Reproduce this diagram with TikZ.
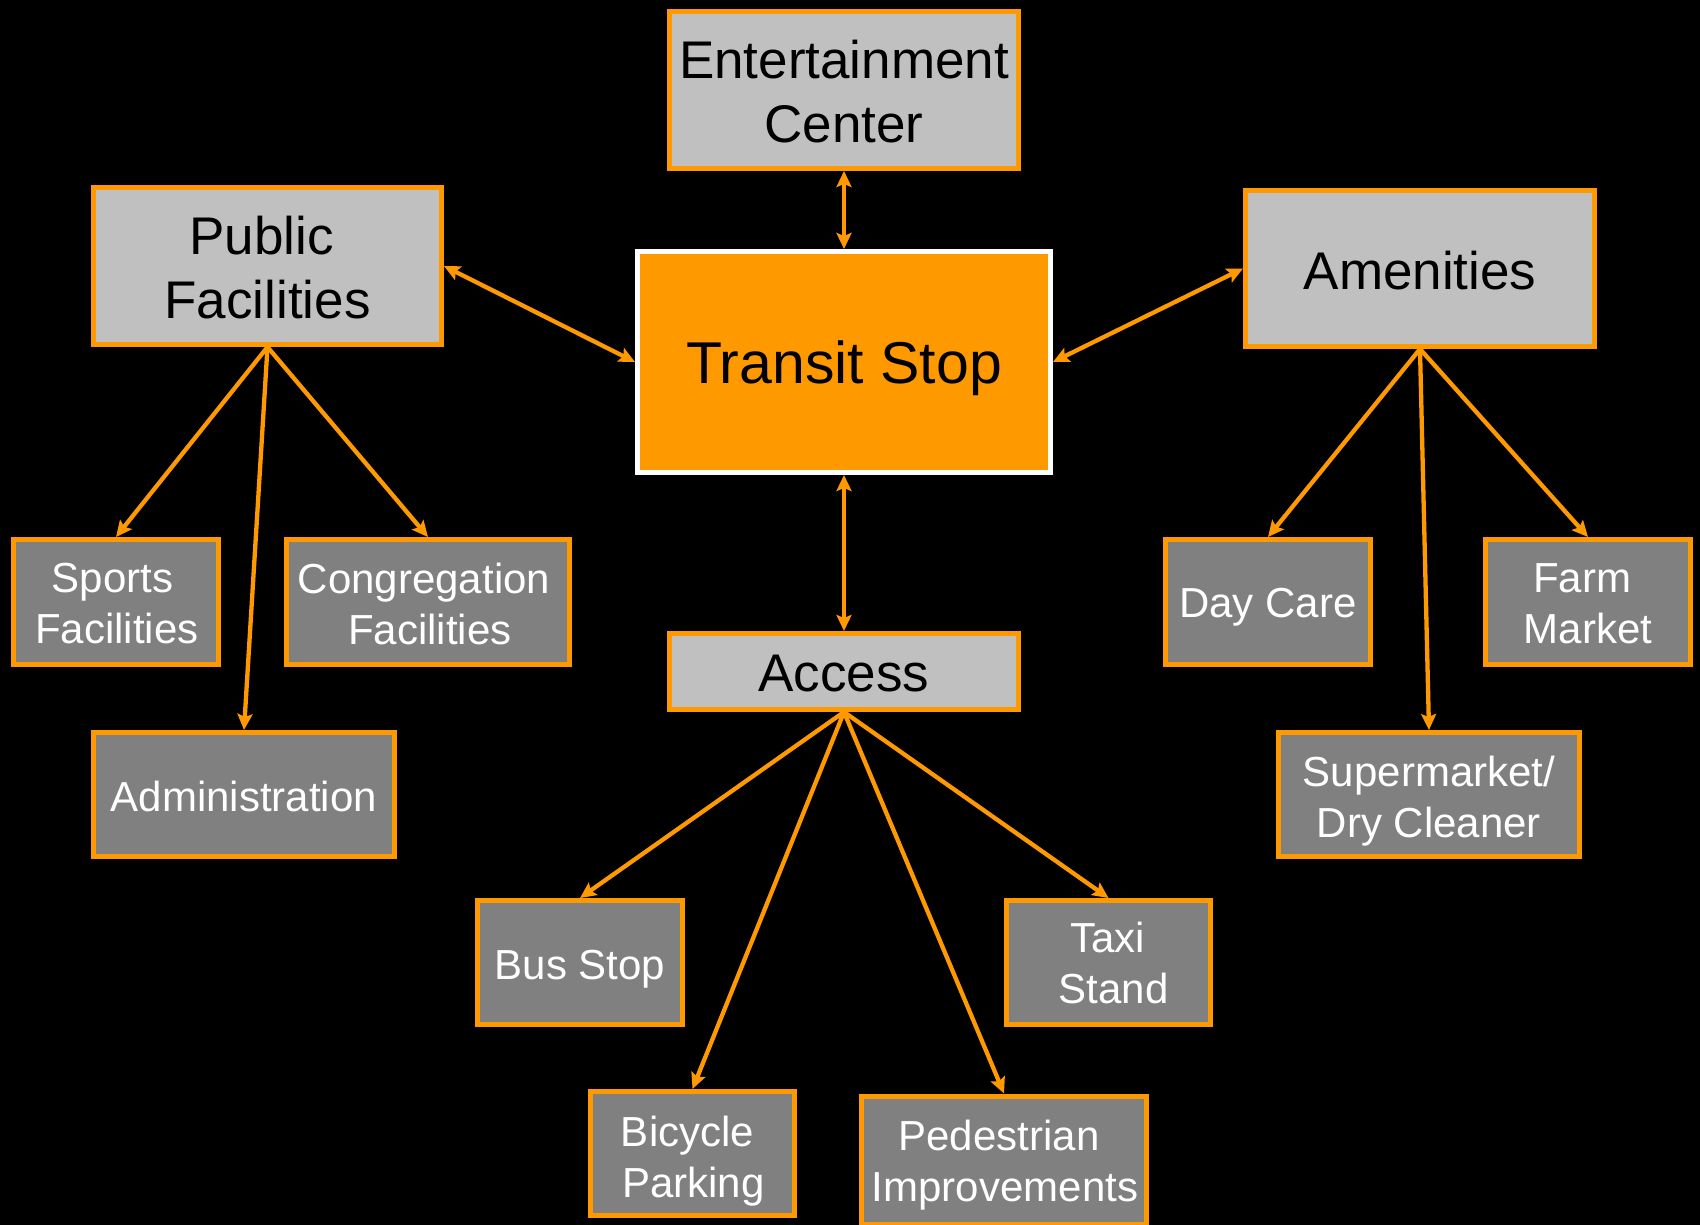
\documentclass[tikz,border=0pt]{standalone}
\usepackage{fontspec}
\setmainfont{Liberation Sans}
\usetikzlibrary{arrows.meta}
\definecolor{orng}{HTML}{FF9900}
\definecolor{lgray}{HTML}{C0C0C0}
\definecolor{dgray}{HTML}{808080}
\newcommand{\trail}{\kern12pt}
\begin{document}
\begin{tikzpicture}[x=1pt,y=-1pt,
  topbox/.style={draw=orng, fill=lgray, line width=5pt, inner sep=0pt},
  subbox/.style={draw=orng, fill=dgray, line width=5pt, inner sep=0pt},
  centerbox/.style={draw=white, fill=orng, line width=5pt, inner sep=0pt},
  toptext/.style={inner sep=0pt, align=center, text=black, font=\fontsize{53}{64}\selectfont},
  subtext/.style={inner sep=0pt, align=center, text=white, font=\fontsize{42}{51}\selectfont},
  centertext/.style={inner sep=0pt, align=center, text=black, font=\fontsize{59}{70}\selectfont},
  tip/.style={Stealth[length=16pt,width=15pt,inset=3pt]},
  link/.style={draw=orng, line width=4.3pt, -{Stealth[length=16pt,width=15pt,inset=3pt]}},
  dlink/.style={draw=orng, line width=4.3pt, {Stealth[length=16pt,width=15pt,inset=3pt]}-{Stealth[length=16pt,width=15pt,inset=3pt]}}
]
\fill[black] (0,0) rectangle (1700,1225);
\useasboundingbox (0,0) rectangle (1700,1225);

% boxes
\node[centerbox, minimum width=413pt, minimum height=221pt] (transit) at (844,362) {};
\node[topbox, minimum width=349pt, minimum height=157pt] (ent) at (844,90) {};
\node[topbox, minimum width=348pt, minimum height=157pt] (pub) at (267.5,266) {};
\node[topbox, minimum width=349pt, minimum height=156pt] (amen) at (1420,268.5) {};
\node[topbox, minimum width=349pt, minimum height=76pt] (access) at (844,671.5) {};

\node[subbox, minimum width=205pt, minimum height=125pt] (sports) at (116,602) {};
\node[subbox, minimum width=283pt, minimum height=125pt] (cong) at (428,602) {};
\node[subbox, minimum width=301pt, minimum height=124pt] (admin) at (244,794.5) {};

\node[subbox, minimum width=205pt, minimum height=125pt] (day) at (1268,602) {};
\node[subbox, minimum width=205pt, minimum height=125pt] (farm) at (1588,602) {};
\node[subbox, minimum width=301pt, minimum height=124pt] (super) at (1429,794.5) {};

\node[subbox, minimum width=205pt, minimum height=124pt] (bus) at (580,962.5) {};
\node[subbox, minimum width=204pt, minimum height=124pt] (taxi) at (1108.5,962.5) {};
\node[subbox, minimum width=204pt, minimum height=124pt] (bike) at (692.5,1153.5) {};
\node[subbox, minimum width=285pt, minimum height=128pt] (ped) at (1004,1160) {};

% texts
\node[centertext] (transitT) at ([yshift=-6.5pt]transit.center) {Transit Stop};
\node[toptext] (entT) at ([yshift=-2pt]ent.center) {Entertainment\\Center};
\node[toptext] (pubT) at ([yshift=-2pt]pub.center) {Public\trail\\Facilities};
\node[toptext] (amenT) at ([yshift=-2pt]amen.center) {Amenities};
\node[toptext] (accessT) at ([yshift=-2pt]access.center) {Access};

\node[subtext] (sportsT) at ([xshift=1pt,yshift=-2pt]sports.center) {Sports\kern9pt\\Facilities};
\node[subtext] (congT) at ([xshift=2pt,yshift=-2pt]cong.center) {Congregation\trail\\Facilities};
\node[subtext] (adminT) at ([yshift=-2pt]admin.center) {Administration};

\node[subtext] (dayT) at ([yshift=-5.5pt]day.center) {Day Care};
\node[subtext] (farmT) at ([yshift=-2pt]farm.center) {Farm\trail\\Market};
\node[subtext] (superT) at ([yshift=-6.5pt]super.center) {Supermarket/\\Dry Cleaner};

\node[subtext] (busT) at ([yshift=-6.5pt]bus.center) {Bus Stop};
\node[subtext] (taxiT) at ([xshift=5pt]taxi.center) {Taxi\trail\\Stand};
\node[subtext] (bikeT) at ([xshift=1pt,yshift=-7.5pt]bike.center) {Bicycle\trail\\Parking};
\node[subtext] (pedT) at ([xshift=1pt,yshift=-5pt]ped.center) {Pedestrian\trail\\Improvements};

% connectors
\draw[dlink] (ent.south) -- (transit.north);
\draw[dlink] (pub.east) -- (transit.west);
\draw[dlink] (amen.west) -- (transit.east);
\draw[dlink] (transit.south) -- (access.north);

\draw[link] (pub.south) -- (sports.north);
\draw[link] (pub.south) -- (cong.north);
\draw[link] (pub.south) -- (admin.north);

\draw[link] (amen.south) -- (day.north);
\draw[link] (amen.south) -- (farm.north);
\draw[link] (amen.south) -- (super.north);

\draw[link] (access.south) -- (bus.north);
\draw[link] (access.south) -- (bike.north);
\draw[link] (access.south) -- (ped.north);
\draw[link] (access.south) -- (taxi.north);
\end{tikzpicture}
\end{document}
